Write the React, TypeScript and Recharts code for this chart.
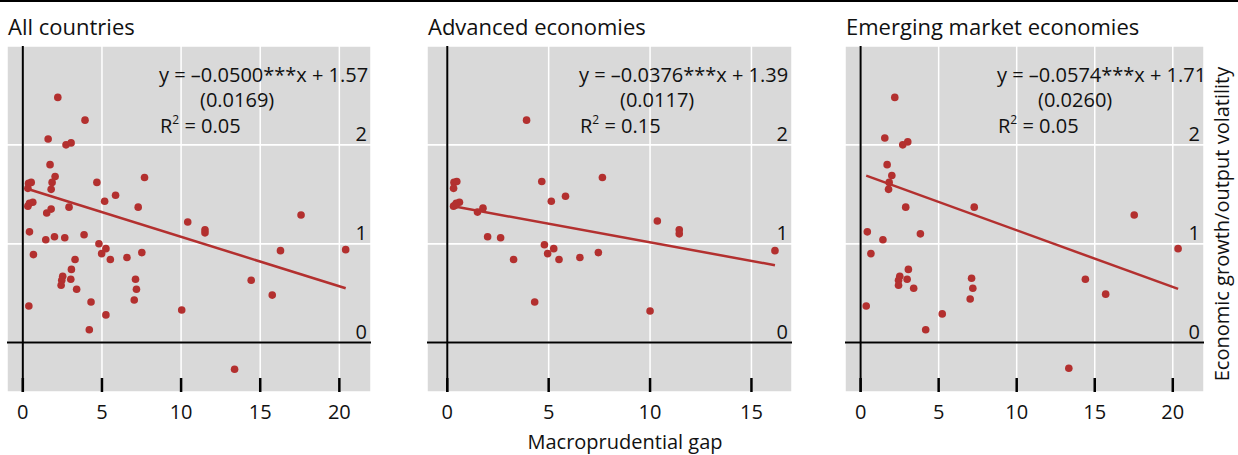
import React from "react";
import {
  CartesianGrid,
  ReferenceLine,
  Scatter,
  ScatterChart,
  XAxis,
  YAxis,
} from "recharts";

// Macroprudential gap (x) vs growth/output volatility (y)
const allX = [
  2.21, 3.93, 1.6, 2.73, 3.05, 1.72, 2.04, 1.85, 1.79, 0.36, 0.53, 0.32, 4.68,
  7.69, 5.86, 5.17, 7.29, 2.92, 0.32, 0.42, 0.63, 1.79, 1.51, 0.42, 0.67, 1.45,
  2.0, 2.65, 3.87, 4.81, 5.25, 4.98, 5.53, 3.3, 6.58, 7.52, 3.07, 2.52, 2.46,
  2.42, 3.03, 3.4, 7.12, 7.18, 7.04, 4.31, 0.38, 5.25, 4.2, 10.04, 10.42, 11.51,
  11.51, 14.43, 15.76, 16.28, 17.58, 20.4, 13.38,
];
const allY = [
  2.48, 2.25, 2.06, 2.0, 2.02, 1.8, 1.68, 1.62, 1.55, 1.61, 1.62, 1.56, 1.62,
  1.67, 1.49, 1.43, 1.37, 1.37, 1.38, 1.41, 1.42, 1.35, 1.31, 1.12, 0.89, 1.04,
  1.07, 1.06, 1.09, 1.0, 0.95, 0.9, 0.84, 0.84, 0.86, 0.91, 0.74, 0.67, 0.63,
  0.58, 0.64, 0.54, 0.64, 0.54, 0.43, 0.41, 0.37, 0.28, 0.13, 0.33, 1.22, 1.14,
  1.11, 0.63, 0.48, 0.93, 1.29, 0.94, -0.27,
];

const advX = [
  3.91, 0.33, 0.47, 0.31, 4.66, 7.65, 5.83, 5.13, 0.31, 0.44, 0.6, 0.4, 1.76,
  1.49, 1.99, 2.63, 3.27, 4.79, 5.25, 4.95, 5.51, 6.54, 7.45, 4.31, 10.0, 10.36,
  11.44, 11.44, 16.16,
];
const advY = [
  2.25, 1.62, 1.63, 1.56, 1.63, 1.67, 1.48, 1.43, 1.38, 1.41, 1.42, 1.39, 1.36,
  1.32, 1.07, 1.06, 0.84, 0.99, 0.95, 0.9, 0.84, 0.86, 0.91, 0.41, 0.32, 1.23,
  1.14, 1.1, 0.93,
];

const emeX = [
  2.19, 1.55, 2.7, 3.02, 1.7, 2.0, 1.83, 1.79, 2.89, 7.28, 0.43, 0.66, 1.43,
  3.83, 3.06, 2.51, 2.43, 2.43, 2.98, 3.4, 7.11, 7.19, 7.02, 0.36, 5.23, 4.17,
  13.34, 14.4, 15.7, 17.53, 20.34,
];
const emeY = [
  2.48, 2.07, 2.0, 2.03, 1.8, 1.69, 1.62, 1.55, 1.37, 1.37, 1.12, 0.9, 1.04,
  1.1, 0.74, 0.67, 0.63, 0.58, 0.64, 0.55, 0.65, 0.55, 0.44, 0.37, 0.29, 0.13,
  -0.26, 0.64, 0.49, 1.29, 0.95,
];

const panelTitles = ["All countries", "Advanced economies", "Emerging market economies"];
const slopes = [-0.05, -0.0376, -0.0574];
const intercepts = [1.57, 1.39, 1.71];
const eqLines = [
  ["y = \u20130.0500***x + 1.57", "(0.0169)", "0.05"],
  ["y = \u20130.0376***x + 1.39", "(0.0117)", "0.15"],
  ["y = \u20130.0574***x + 1.71", "(0.0260)", "0.05"],
];
const xTicksAll = [0, 5, 10, 15, 20];
const xTicksAdv = [0, 5, 10, 15];
const yTicks = [0, 1, 2];
const yMin = -0.5;
const yMax = 3;

const FONT = "'Open Sans', 'Noto Sans', sans-serif";
const RED = "#b3302f";
const PLOT_TOP = 46;
const PLOT_H = 346;
const AXIS_H = 40;

const zip = (xs: number[], ys: number[]) => xs.map((x, i) => ({ x, y: ys[i] }));

const panels = [
  { left: 7, width: 364, domain: [-1, 22], ticks: xTicksAll, data: zip(allX, allY), xs: allX },
  { left: 427, width: 365, domain: [-1, 17], ticks: xTicksAdv, data: zip(advX, advY), xs: advX },
  { left: 845, width: 359, domain: [-1, 22], ticks: xTicksAll, data: zip(emeX, emeY), xs: emeX },
];

const XTick = (props: any) => {
  const { x, y, payload } = props;
  return (
    <text x={x} y={y + 27} textAnchor="middle" fontSize={20} fill="#111" fontFamily={FONT}>
      {payload.value}
    </text>
  );
};

const Dot = (props: any) => <circle cx={props.cx} cy={props.cy} r={3.8} fill={RED} />;

// inward tick mark, anchored at the bottom edge of the plot
const TickMark = (props: any) => (
  <line
    x1={props.cx}
    x2={props.cx}
    y1={props.cy - 14}
    y2={props.cy}
    stroke="#000000"
    strokeWidth={2.5}
  />
);

function Panel({ idx }: { idx: number }) {
  const p = panels[idx];
  const x0 = Math.min(...p.xs);
  const x1 = Math.max(...p.xs);
  const seg = [
    { x: x0, y: slopes[idx] * x0 + intercepts[idx] },
    { x: x1, y: slopes[idx] * x1 + intercepts[idx] },
  ];
  const tickPts = p.ticks.map((t) => ({ x: t, y: yMin }));
  return (
    <div style={{ position: "absolute", left: p.left, top: PLOT_TOP }}>
      <ScatterChart
        width={p.width}
        height={PLOT_H + AXIS_H}
        margin={{ top: 0, right: 0, bottom: 0, left: 0 }}
      >
        <CartesianGrid fill="#d9d9d9" stroke="#ffffff" strokeWidth={1.5} />
        <XAxis
          type="number"
          dataKey="x"
          domain={p.domain}
          ticks={p.ticks}
          height={AXIS_H}
          axisLine={false}
          tickLine={false}
          tickSize={0}
          tickMargin={0}
          tick={<XTick />}
        />
        <YAxis type="number" dataKey="y" domain={[yMin, yMax]} ticks={yTicks} hide />
        {yTicks.map((v) => (
          <ReferenceLine
            key={`yl${v}`}
            y={v}
            stroke="#ffffff"
            strokeWidth={1.5}
            label={{
              value: String(v),
              position: "insideBottomRight",
              offset: 4,
              fontSize: 20,
              fill: "#111",
              fontFamily: FONT,
            }}
          />
        ))}
        <ReferenceLine x={0} stroke="#000" strokeWidth={2} />
        <ReferenceLine y={0} stroke="#000" strokeWidth={2} />
        <ReferenceLine segment={seg} stroke={RED} strokeWidth={2.5} />
        <Scatter data={tickPts} shape={<TickMark />} isAnimationActive={false} />
        <Scatter data={p.data} shape={<Dot />} isAnimationActive={false} />
      </ScatterChart>
    </div>
  );
}

export default function App() {
  return (
    <div
      style={{
        position: "absolute",
        left: 0,
        top: 0,
        width: 1238,
        height: 455,
        fontFamily: FONT,
      }}
    >
      {panels.map((_, i) => (
        <Panel key={i} idx={i} />
      ))}
      <svg
        width={1238}
        height={455}
        style={{ position: "absolute", left: 0, top: 0, pointerEvents: "none" }}
        fontFamily={FONT}
      >
        <rect x={0} y={0} width={1238} height={2} fill="#000" />
        {panels.map((p, i) => (
          <g key={i}>
            <text x={p.left + 1} y={35} fontSize={22} fill="#111">
              {panelTitles[i]}
            </text>
            <text x={p.left + 152} y={82} fontSize={20} fill="#111">
              {eqLines[i][0]}
            </text>
            <text x={p.left + 193} y={107} fontSize={20} fill="#111">
              {eqLines[i][1]}
            </text>
            <text x={p.left + 153} y={133} fontSize={20} fill="#111">
              R<tspan dy={-9} fontSize={12}>2</tspan>
              <tspan dy={9}> = {eqLines[i][2]}</tspan>
            </text>
          </g>
        ))}
        <text x={625} y={449} textAnchor="middle" fontSize={20} fill="#111">
          Macroprudential gap
        </text>
        <text
          x={1229}
          y={224}
          textAnchor="middle"
          fontSize={20}
          fill="#111"
          transform="rotate(-90 1229 224)"
        >
          Economic growth/output volatility
        </text>
      </svg>
    </div>
  );
}
